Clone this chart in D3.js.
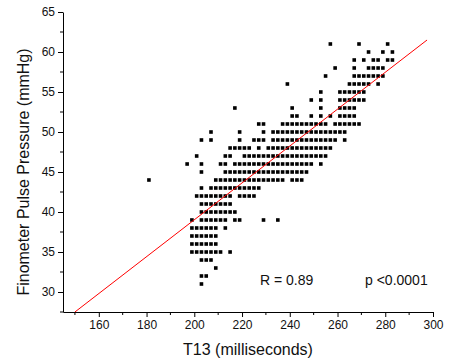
<!DOCTYPE html>
<html>
<head>
<meta charset="utf-8">
<script src="https://cdn.jsdelivr.net/npm/d3@7"></script>
<style>
  body { margin: 0; background: #fff; }
  text { font-family: "Liberation Sans", Arial, sans-serif; fill: #111; }
</style>
</head>
<body>
<div id="chart"></div>
<script>
// Chart data (y = mmHg rows, x = T13 in ms)
var pressureRows = [61, 60, 59, 58, 57, 56, 55, 54, 53, 52, 51, 50, 49, 48, 47, 46,
  45, 44, 43, 42, 41, 40, 39, 38, 37, 36, 35, 34, 33, 32, 31];

var t13ByRow = [
  [257, 269, 281],
  [273, 279, 283],
  [267, 271, 275, 277, 281, 283],
  [259, 267, 273, 275, 277, 279],
  [255, 267, 269, 271, 273, 275, 277, 279],
  [239, 265, 267, 269, 271, 273, 277],
  [253, 261, 263, 265, 267, 269, 271],
  [249, 253, 261, 263, 265, 267, 269, 271],
  [217, 241, 253, 261, 263, 265, 267],
  [241, 243, 249, 253, 257, 261, 263, 265, 267],
  [227, 229, 237, 239, 241, 243, 245, 247, 249, 251, 253, 255, 259, 261, 263, 265, 267, 269],
  [207, 219, 229, 233, 235, 237, 239, 241, 243, 245, 247, 249, 251, 253, 255, 257, 259, 261, 263],
  [203, 207, 219, 225, 227, 229, 233, 235, 237, 239, 241, 243, 245, 247, 249, 251, 253, 255, 257, 259, 263],
  [215, 217, 219, 221, 223, 227, 231, 233, 235, 237, 239, 241, 243, 245, 247, 249, 251, 253, 255, 257],
  [201, 213, 215, 221, 223, 225, 227, 229, 231, 233, 235, 237, 239, 241, 243, 245, 247, 249, 251, 253, 255],
  [197, 203, 211, 213, 217, 219, 221, 223, 225, 227, 229, 231, 233, 235, 237, 239, 241, 243, 245, 247, 249, 253],
  [203, 213, 215, 217, 219, 221, 223, 225, 227, 229, 231, 233, 235, 237, 239, 241, 243, 245, 247],
  [181, 209, 211, 213, 215, 217, 219, 221, 223, 225, 227, 229, 231, 233, 235, 237, 241, 243, 245],
  [203, 207, 209, 211, 213, 215, 217, 219, 221, 223, 225, 227],
  [201, 203, 205, 207, 209, 211, 213, 215, 219, 221, 223, 225],
  [203, 205, 207, 209, 211, 213, 215],
  [203, 205, 207, 209, 211, 213, 215, 217],
  [199, 203, 205, 207, 209, 211, 213, 217, 219, 229, 235],
  [199, 201, 203, 205, 207, 209, 213],
  [199, 201, 203, 205, 207, 209],
  [199, 201, 203, 205, 207, 209],
  [199, 201, 203, 205, 207, 209, 211, 215],
  [203, 205, 207],
  [209],
  [203, 205],
  [203]
];

// Linear fit drawn across the plot
var fitLine = [[150, 27.5], [297.5, 61.5]];

var xTicks = [160, 180, 200, 220, 240, 260, 280, 300];
var xMinorTicks = [150, 170, 190, 210, 230, 250, 270, 290];
var yTicks = [30, 35, 40, 45, 50, 55, 60, 65];
var yMinorTicks = [27.5, 32.5, 37.5, 42.5, 47.5, 52.5, 57.5, 62.5];

var statLabels = ["R = 0.89", "p <0.0001"];

// SVG area
var svgWidth = 456;
var svgHeight = 364;

var svg = d3.select("#chart")
  .append("svg")
  .attr("width", svgWidth)
  .attr("height", svgHeight);

// Scales
var x = d3.scaleLinear().domain([145, 300]).range([63, 433]);
var y = d3.scaleLinear().domain([27.5, 65]).range([312, 12]);

// Flatten rows into points
var points = [];
pressureRows.forEach(function(p, i) {
  t13ByRow[i].forEach(function(t) {
    points.push([t, p]);
  });
});

// Axes
var xAxis = svg.append("g")
  .attr("transform", "translate(0," + y(27.5) + ")")
  .call(d3.axisBottom(x).tickValues(xTicks).tickSize(5).tickPadding(3).tickSizeOuter(0));
xAxis.selectAll(".minor")
  .data(xMinorTicks)
  .enter().append("line")
  .attr("x1", d => x(d)).attr("x2", d => x(d))
  .attr("y1", 0).attr("y2", 3)
  .attr("stroke", "#000");

var yAxis = svg.append("g")
  .attr("transform", "translate(" + x(145) + ",0)")
  .call(d3.axisLeft(y).tickValues(yTicks).tickSize(5).tickPadding(3).tickSizeOuter(0));
yAxis.selectAll(".minor")
  .data(yMinorTicks)
  .enter().append("line")
  .attr("y1", d => y(d)).attr("y2", d => y(d))
  .attr("x1", 0).attr("x2", -3)
  .attr("stroke", "#000");

svg.selectAll(".domain, .tick line").attr("stroke", "#000");
svg.selectAll(".tick text")
  .style("font-size", "12px")
  .style("font-family", "'Liberation Sans', Arial, sans-serif")
  .attr("fill", "#111");

// Scatter points as small squares
svg.append("g")
  .selectAll("rect")
  .data(points)
  .enter().append("rect")
  .attr("x", d => x(d[0]) - 1.8)
  .attr("y", d => y(d[1]) - 1.8)
  .attr("width", 3.6)
  .attr("height", 3.6)
  .attr("fill", "#000");

// Regression line
svg.append("path")
  .datum(fitLine)
  .attr("d", d3.line().x(d => x(d[0])).y(d => y(d[1])))
  .attr("stroke", "#ff0000")
  .attr("stroke-width", 1)
  .attr("fill", "none");

// Stats text
svg.append("text")
  .attr("x", 260).attr("y", 285)
  .style("font-size", "14px")
  .text(statLabels[0]);
svg.append("text")
  .attr("x", 365).attr("y", 285)
  .style("font-size", "14px")
  .text(statLabels[1]);

// Axis titles
svg.append("text")
  .attr("x", 248).attr("y", 355)
  .attr("text-anchor", "middle")
  .style("font-size", "16px")
  .text("T13 (milliseconds)");

svg.append("text")
  .attr("transform", "translate(29,172) rotate(-90)")
  .attr("text-anchor", "middle")
  .style("font-size", "16px")
  .text("Finometer Pulse Pressure (mmHg)");
</script>
</body>
</html>
